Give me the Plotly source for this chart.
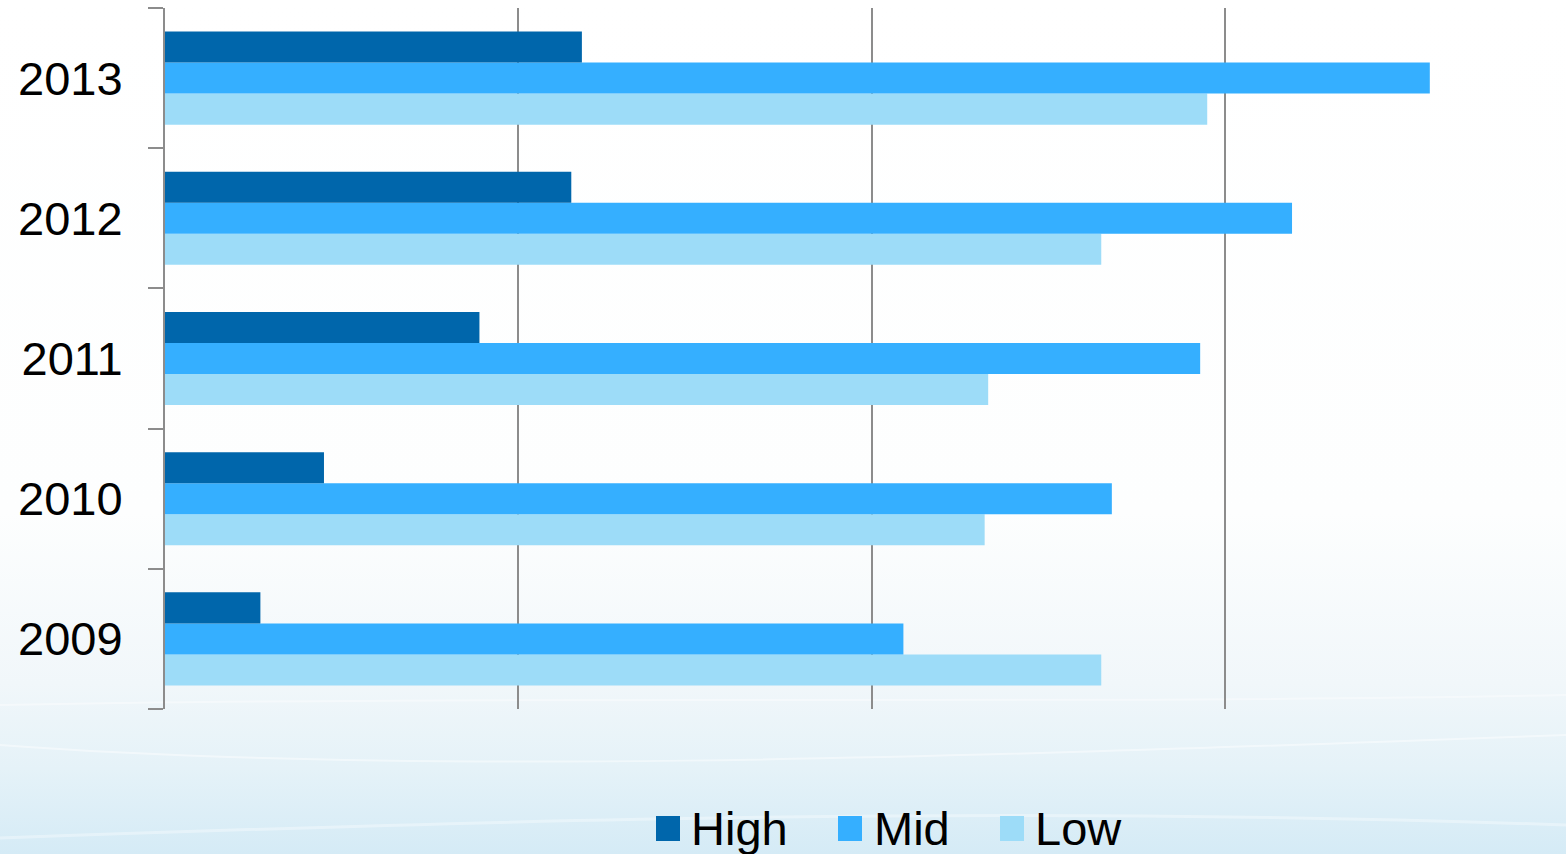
import base64
import plotly.graph_objects as go

# Data
years = ["2009", "2010", "2011", "2012", "2013"]
high = [2.7, 4.5, 8.9, 11.5, 11.8]
mid = [20.9, 26.8, 29.3, 31.9, 35.8]
low = [26.5, 23.2, 23.3, 26.5, 29.5]
series_names = ["High", "Mid", "Low"]
series_colors = ["#0066AB", "#35AFFF", "#9DDCF8"]

W, H = 1566, 854
L, T, B, R = 165, 8, 145, 0
plot_w, plot_h = W - L - R, H - T - B
px_per_unit = 35.33

fig = go.Figure()
# Plotly stacks grouped horizontal bars bottom-up, so add Low first
for name, vals, col in reversed(list(zip(series_names, [high, mid, low], series_colors))):
    fig.add_trace(go.Bar(
        y=years, x=vals, name=name, orientation="h",
        marker=dict(color=col, line=dict(width=0)),
        showlegend=False,
    ))

# Soft blue background fading in toward the bottom
svg = f'''<svg xmlns="http://www.w3.org/2000/svg" width="{W}" height="{H}" viewBox="0 0 {W} {H}" preserveAspectRatio="none">
<defs><linearGradient id="g" x1="0" y1="0" x2="0" y2="1">
<stop offset="0" stop-color="#ffffff"/>
<stop offset="0.6" stop-color="#fdfefe"/>
<stop offset="0.8" stop-color="#f1f7fa"/>
<stop offset="0.9" stop-color="#e5f2f8"/>
<stop offset="1" stop-color="#d5ebf6"/>
</linearGradient></defs>
<rect width="{W}" height="{H}" fill="url(#g)"/>
<path d="M0,745 C400,775 900,760 1566,735" stroke="#ffffff" stroke-opacity="0.45" stroke-width="2" fill="none"/>
<path d="M0,838 C500,820 1000,805 1566,825" stroke="#ffffff" stroke-opacity="0.35" stroke-width="3" fill="none"/>
<path d="M0,705 C500,695 1100,705 1566,695" stroke="#ffffff" stroke-opacity="0.4" stroke-width="2" fill="none"/>
</svg>'''
uri = "data:image/svg+xml;base64," + base64.b64encode(svg.encode()).decode()

def px_x(p):
    return (p - L) / plot_w

def px_y(p):
    return (H - B - p) / plot_h

# Legend drawn as swatches + labels
legend_pos = [(656, 689), (838, 872), (1000, 1033)]
shapes = []
annotations = []
for (sx, tx), name, col in zip(legend_pos, series_names, series_colors):
    shapes.append(dict(type="rect", xref="paper", yref="paper",
                       x0=px_x(sx), x1=px_x(sx + 24), y0=px_y(841), y1=px_y(816),
                       fillcolor=col, line=dict(width=0)))
    annotations.append(dict(text=name, xref="paper", yref="paper",
                            x=px_x(tx), y=px_y(829), xanchor="left", yanchor="middle",
                            showarrow=False,
                            font=dict(family="Liberation Sans, Arial", size=47, color="#000000")))

fig.update_layout(
    width=W, height=H,
    margin=dict(l=L, r=R, t=T, b=B, pad=0),
    paper_bgcolor="#ffffff",
    plot_bgcolor="rgba(0,0,0,0)",
    barmode="group",
    bargap=0.336,
    bargroupgap=0,
    showlegend=False,
    images=[dict(source=uri, xref="paper", yref="paper", x=-L / plot_w, y=1 + T / plot_h,
                 sizex=W / plot_w, sizey=H / plot_h, sizing="stretch",
                 xanchor="left", yanchor="top", layer="below")],
    shapes=shapes,
    annotations=annotations,
    font=dict(family="Liberation Sans, Arial", color="#000000"),
)

fig.update_xaxes(
    range=[0, plot_w / px_per_unit], dtick=10, tick0=0,
    showgrid=True, gridcolor="#8c8c8c", gridwidth=1.5,
    showticklabels=False, ticks="", zeroline=False, showline=False,
)
fig.update_yaxes(
    type="category", categoryorder="array", categoryarray=years,
    range=[-0.5, 4.5],
    showline=True, linecolor="#8c8c8c", linewidth=2,
    ticks="outside", ticklen=15, tickcolor="#8c8c8c", tickwidth=2,
    tickson="boundaries", showgrid=False,
    tickfont=dict(family="Liberation Sans, Arial", size=47, color="#000000"),
    ticklabelstandoff=31,
)

fig.write_html("out.html")
